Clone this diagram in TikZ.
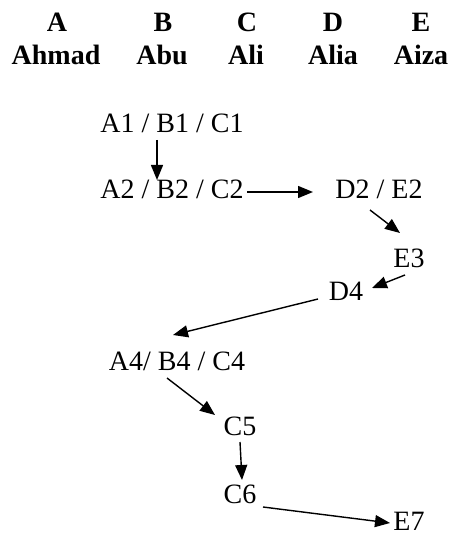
\documentclass[tikz,border=0pt]{standalone}
\usepackage{fontspec}
\setmainfont{Liberation Serif}
\usetikzlibrary{arrows.meta,calc}
\begin{document}
\begin{tikzpicture}[x=1pt,y=-1pt,
  lbl/.style={inner sep=0pt,anchor=base,font=\fontsize{28}{34}\selectfont},
  hdr/.style={inner sep=0pt,anchor=base,font=\fontsize{28}{33}\selectfont\bfseries},
  arr/.style={line width=1.4pt,-{Triangle[length=15pt,width=12pt]}}]
\useasboundingbox (0,0) rectangle (454,537);
% header
\node[hdr] (hA) at (57,32) {A};
\node[hdr] (hB) at (163,32) {B};
\node[hdr] (hC) at (247,32) {C};
\node[hdr] (hD) at (333,32) {D};
\node[hdr] (hE) at (421,32) {E};
\node[hdr] (nA) at (56,65) {Ahmad};
\node[hdr] (nB) at (162,65) {Abu};
\node[hdr] (nC) at (246,65) {Ali};
\node[hdr] (nD) at (333,65) {Alia};
\node[hdr] (nE) at (421,65) {Aiza};
% nodes
\node[lbl] (A1) at (172,133) {A1 / B1 / C1};
\node[lbl] (A2) at (172,199) {A2 / B2 / C2};
\node[lbl] (D2) at (379,199) {D2 / E2};
\node[lbl] (E3) at (409,267) {E3};
\node[lbl] (D4) at (346,300) {D4};
\node[lbl] (A4) at (177,370) {A4/ B4 / C4};
\node[lbl] (C5) at (240,435) {C5};
\node[lbl] (C6) at (240,503) {C6};
\node[lbl] (E7) at (409,530) {E7};
% connectors
\draw[arr] ($(A1.base)+(-15,7)$) -- ($(A2.base)+(-15,-19)$);
\draw[arr] ($(A2.base)+(75,-7)$) -- ($(D2.base)+(-66,-7)$);
\draw[arr] ($(D2.base)+(-9,11)$) -- ($(E3.base)+(-9,-34)$);
\draw[arr] ($(E3.base)+(-4,8)$) -- ($(D4.base)+(26,-12)$);
\draw[arr] ($(D4.base)+(-28,-1)$) -- ($(A4.base)+(-4,-35)$);
\draw[arr] ($(A4.base)+(-10,8)$) -- ($(C5.base)+(-25,-20)$);
\draw[arr] ($(C5.base)+(0,7)$) -- ($(C6.base)+(2,-23)$);
\draw[arr] ($(C6.base)+(23,4)$) -- ($(E7.base)+(-19,-7)$);
\end{tikzpicture}
\end{document}
